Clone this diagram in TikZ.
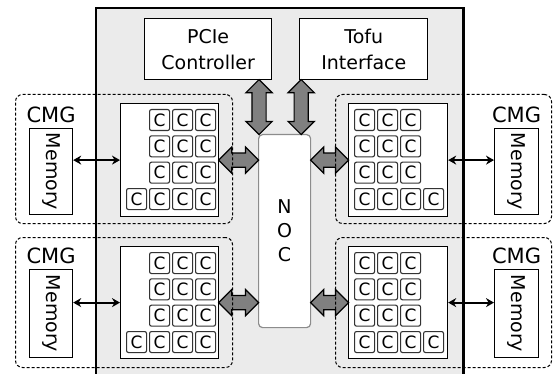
\documentclass[tikz,border=0pt]{standalone}
\usepackage{fontspec}
\setmainfont{DejaVu Sans}
\usepackage{graphicx}
\usepackage{tikz}
\usetikzlibrary{shapes.arrows, arrows.meta, calc, positioning}
\definecolor{chipgray}{RGB}{235,235,235}
\definecolor{arrowgray}{RGB}{128,128,128}
\definecolor{nocgray}{RGB}{140,140,140}
\tikzstyle{unit} = [rectangle, draw=black, fill=white, line width=1.2pt,
anchor=north west, align=center, inner sep=0pt]
\tikzstyle{cmg} = [rectangle, rounded corners=7pt, draw=black, line width=1pt,
dash pattern=on 3pt off 2pt, anchor=north west]
\tikzstyle{cmglabel} = [inner sep=2pt, font=\fontsize{21}{25}\selectfont]
\tikzstyle{core} = [rectangle, rounded corners=2pt, draw=black!80, fill=white,
line width=1.1pt, minimum width=20pt, minimum height=21pt, inner sep=0pt,
anchor=north west, font=\fontsize{17}{20}\selectfont]
\tikzstyle{fatarrow} = [double arrow, draw=black, fill=arrowgray, line width=1.2pt,
inner xsep=0pt, inner ysep=6.5pt, minimum width=25pt, double arrow head extend=6pt]
\tikzstyle{memarrow} = [line width=1.8pt, {Stealth[length=8pt,width=9pt]}-{Stealth[length=8pt,width=9pt]}]

\begin{document}
\begin{tikzpicture}[x=1pt, y=-1pt, font=\fontsize{19}{26}\selectfont]

      \useasboundingbox (0,0) rectangle (553,374);

      % chip body, its border comes last
      \node (CHIP) [rectangle, fill=chipgray, anchor=north west, inner sep=0pt,
        minimum width=367pt, minimum height=390pt] at (96,8) {};

      \node (PCIE) [unit, minimum width=127pt, minimum height=61pt] at (144,18) {PCIe\\Controller};
      \node (TOFU) [unit, minimum width=128pt, minimum height=61pt, right=27pt of PCIE] {Tofu\\Interface};

      \node (NOC) [unit, draw=nocgray, rounded corners=4pt, minimum width=52pt,
        minimum height=193pt, font=\fontsize{19}{24}\selectfont] at (258,134) {N\\O\\C};

      % core clusters
      \node (CL1) [unit, minimum width=98pt, minimum height=113pt] at (120,103) {};
      \node (CL2) [unit, minimum width=98pt, minimum height=112pt] at (120,246) {};
      \node (CL3) [unit, minimum width=99pt, minimum height=113pt] at (348,103) {};
      \node (CL4) [unit, minimum width=99pt, minimum height=112pt] at (348,246) {};

      \foreach \cl/\ca/\cb in {CL1/2/4, CL2/2/4, CL3/1/3, CL4/1/3} {
        \foreach \r in {1,2,3}
          \foreach \c in {\ca,...,\cb}
            \node (\cl-\r-\c) [core] at ($(\cl.north west)+({6+23*(\c-1)},{6+26.3*(\r-1)})$) {C};
        \foreach \c in {1,...,4}
          \node (\cl-4-\c) [core] at ($(\cl.north west)+({6+23*(\c-1)},85)$) {C};
      }

      % memories
      \node (MEM1) [unit, minimum width=43pt, minimum height=86pt] at (29,128) {\rotatebox{-90}{Memory}};
      \node (MEM2) [unit, minimum width=43pt, minimum height=88pt] at (29,269) {\rotatebox{-90}{Memory}};
      \node (MEM3) [unit, minimum width=44pt, minimum height=86pt] at (494,128) {\rotatebox{-90}{Memory}};
      \node (MEM4) [unit, minimum width=44pt, minimum height=88pt] at (494,269) {\rotatebox{-90}{Memory}};

      \node (L1) [cmglabel, above=3pt of MEM1] {CMG};
      \node (L2) [cmglabel, above=3pt of MEM2] {CMG};
      \node (L3) [cmglabel, above=3pt of MEM3] {CMG};
      \node (L4) [cmglabel, above=3pt of MEM4] {CMG};

      % links to the NOC
      \coordinate (P1) at ([xshift=1pt]NOC.north west);
      \coordinate (P2) at ([xshift=-10pt]NOC.north east);

      \path (P1 |- PCIE.south) -- (P1) node[fatarrow, midway, sloped, minimum height=55pt] (A1) {};
      \path (P2 |- TOFU.south) -- (P2) node[fatarrow, midway, sloped, minimum height=55pt] (A2) {};
      \path (CL1.east) -- (CL1.east -| NOC.west) node[fatarrow, midway, minimum height=40pt] (A3) {};
      \path (CL2.east) -- (CL2.east -| NOC.west) node[fatarrow, midway, minimum height=40pt] (A4) {};
      \path (NOC.east |- CL3.west) -- (CL3.west) node[fatarrow, midway, minimum height=38pt] (A5) {};
      \path (NOC.east |- CL4.west) -- (CL4.west) node[fatarrow, midway, minimum height=38pt] (A6) {};

      % CMG groups
      \node (CMG1) [cmg, minimum width=217pt, minimum height=129pt] at (15,94) {};
      \node (CMG2) [cmg, minimum width=217pt, minimum height=130pt] at (15,237) {};
      \node (CMG3) [cmg, minimum width=216pt, minimum height=129pt] at (335,94) {};
      \node (CMG4) [cmg, minimum width=216pt, minimum height=130pt] at (335,237) {};

      \draw [memarrow] (MEM1.east |- CL1.west) -- (CL1.west);
      \draw [memarrow] (MEM2.east |- CL2.west) -- (CL2.west);
      \draw [memarrow] (CL3.east) -- (MEM3.west |- CL3.east);
      \draw [memarrow] (CL4.east) -- (MEM4.west |- CL4.east);

      \draw [line width=2.4pt] (CHIP.south west) -- (CHIP.north west) -- (CHIP.north east) -- (CHIP.south east);

  \end{tikzpicture}
\end{document}
